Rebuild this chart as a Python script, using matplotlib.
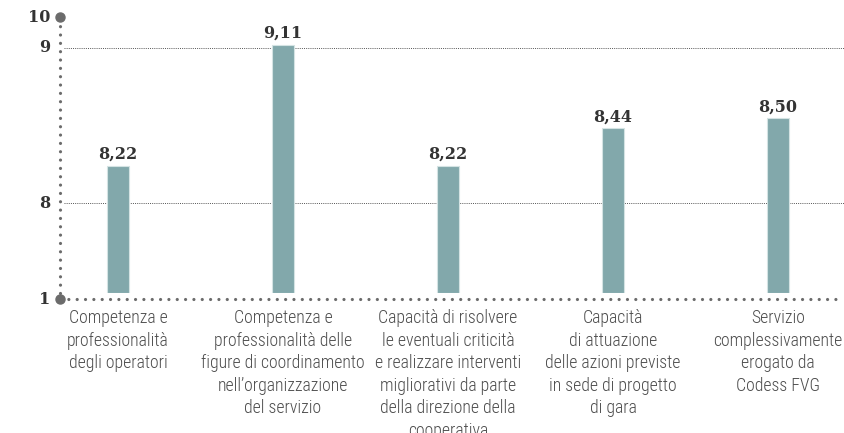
#!/usr/bin/env python3
"""
Valutazione media del servizio - grafico a barre con asse spezzato
"""

import numpy as np
import matplotlib
matplotlib.use('Agg')
import matplotlib.pyplot as plt
from matplotlib import font_manager
from matplotlib.transforms import ScaledTranslation, blended_transform_factory

# Data
categories = [
    'Competenza e\nprofessionalità\ndegli operatori',
    'Competenza e\nprofessionalità delle\nfigure di coordinamento\nnell\u2019organizzazione\ndel servizio',
    'Capacità di risolvere\nle eventuali criticità\ne realizzare interventi\nmigliorativi da parte\ndella direzione della\ncooperativa',
    'Capacità\ndi attuazione\ndelle azioni previste\nin sede di progetto\ndi gara',
    'Servizio\ncomplessivamente\nerogato da\nCodess FVG',
]
scores = [8.22, 9.11, 8.22, 8.44, 8.50]
score_labels = ['8,22', '9,11', '8,22', '8,44', '8,50']
ytick_values = [8, 9, 10]
ytick_labels = ['8', '9', '10']

# Broken axis: value -> pixel height above the bar base
scale_vals = [1, 8, 8.5, 9, 10]
scale_pos = [0, 90, 175, 245, 276]

BAR_COLOR = '#82a8ab'
DOT_COLOR = '#6b6b6b'
TEXT_COLOR = '#333333'

available = {f.name for f in font_manager.fontManager.ttflist}
cat_font = 'DejaVu Sans'
for name in ['Roboto Condensed', 'Liberation Sans Narrow', 'Roboto']:
    if name in available:
        cat_font = name
        break
num_font = 'DejaVu Serif'

W, H = 845, 433
fig = plt.figure(figsize=(W / 100, H / 100), dpi=100)
ax = fig.add_axes([60 / W, (H - 293) / H, 785 / W, 276 / H])

def forward(v):
    return np.interp(v, scale_vals, scale_pos)

def inverse(p):
    return np.interp(p, scale_pos, scale_vals)

ax.set_yscale('function', functions=(forward, inverse))
ax.set_ylim(1, 10)

x = np.arange(len(scores))
ax.set_xlim(-0.352, 4.406)

ax.bar(x, np.array(scores) - 1, bottom=1, width=0.138, color=BAR_COLOR,
       edgecolor='#d4e3e3', linewidth=0.8, zorder=3)

for xi, s, lab in zip(x, scores, score_labels):
    ax.annotate(lab, (xi, s), xytext=(0, 2), textcoords='offset points',
                ha='center', va='bottom', fontsize=11.5, fontweight='bold',
                family=num_font, color=TEXT_COLOR)

# gridlines at 8 and 9
for v in [8, 9]:
    ax.plot([-0.33, 4.406], [v, v], color='#555555', linewidth=0.7,
            linestyle=(0, (1, 1.2)), zorder=1, clip_on=False)

for s in ax.spines.values():
    s.set_visible(False)
ax.set_xticks([])
ax.set_yticks([])

# y tick labels
ylab_trans = blended_transform_factory(ax.transAxes, ax.transData)
for v, lab in zip(ytick_values, ytick_labels):
    ax.text(-10 / 785, v, lab, transform=ylab_trans, ha='right', va='center',
            fontsize=11.5, fontweight='bold', family=num_font, color=TEXT_COLOR)

# dotted left and bottom axis lines, bottom sits 6 px below the bar base
down = ax.transAxes + ScaledTranslation(0, -6 / 100, fig.dpi_scale_trans)
dots = dict(color=DOT_COLOR, linewidth=2.3, linestyle=(0, (0.01, 2.6)),
            dash_capstyle='round', solid_capstyle='round', clip_on=False, zorder=4)
ax.plot([0, 0], [0, 1], transform=ax.transAxes, **dots)
ax.plot([0, 0], [0, 0.03], transform=down, **dots)
ax.plot([0, 780 / 785], [0, 0], transform=down, **dots)
ax.plot([0], [0], 'o', color=DOT_COLOR, markersize=6.5, transform=down, clip_on=False, zorder=5)
ax.plot([0], [1], 'o', color=DOT_COLOR, markersize=6.5, transform=ax.transAxes, clip_on=False, zorder=5)
ax.text(-10 / 785, 0, '1', transform=down, ha='right', va='center',
        fontsize=11.5, fontweight='bold', family=num_font, color=TEXT_COLOR)

# category labels under the bars
cat_trans = ax.transData + ScaledTranslation(0, -16 / 100, fig.dpi_scale_trans)
for xi, c in zip(x, categories):
    ax.text(xi, 1, c, transform=cat_trans, ha='center', va='top',
            fontsize=12.8, family=cat_font, fontweight='light',
            color='#4d4d4d', linespacing=1.33)

fig.savefig('out.png', dpi=100)
